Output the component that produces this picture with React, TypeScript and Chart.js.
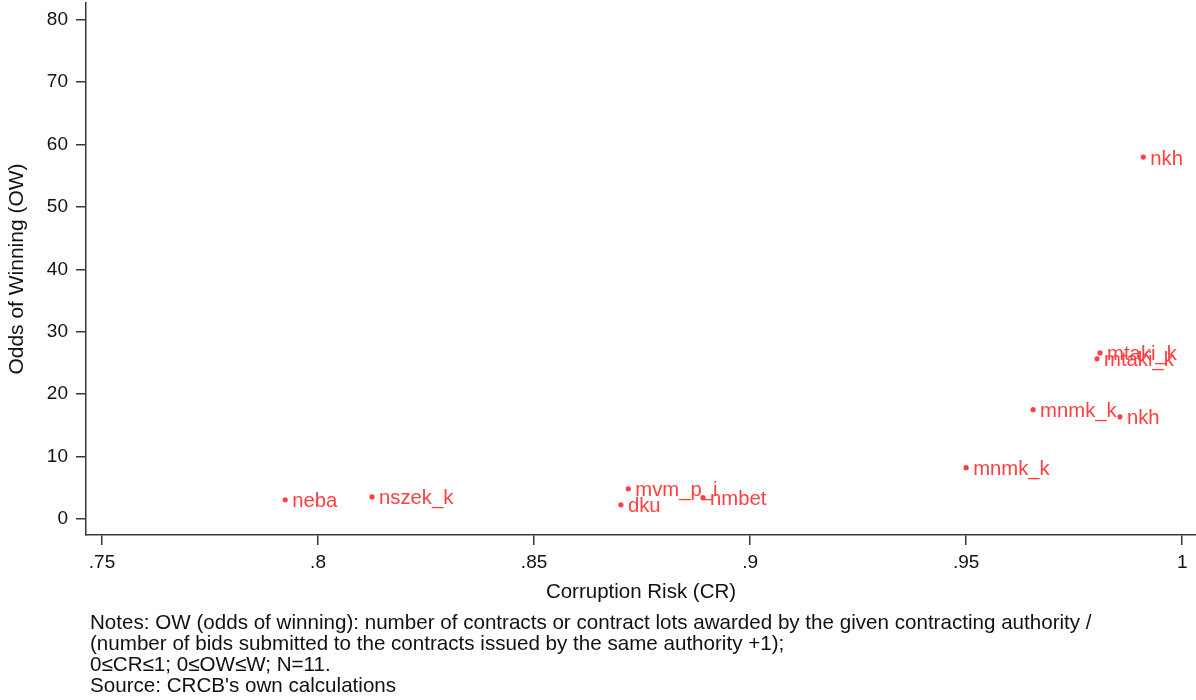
import React, { useEffect, useRef } from "react";
import { Chart, registerables } from "chart.js";

Chart.register(...registerables);

const pointLabels = ["nkh", "mtaki_k", "mtaki_k", "mnmk_k", "nkh", "mnmk_k", "mvm_p_i", "dku", "nmbet", "neba", "nszek_k"];
const crValues = [0.991, 0.981, 0.9803, 0.9655, 0.9856, 0.95, 0.8718, 0.8701, 0.8891, 0.7924, 0.8125];
const owValues = [58.0, 26.6, 25.65, 17.5, 16.35, 8.2, 4.8, 2.24, 3.4, 3.05, 3.5];

const xTicks = [0.75, 0.8, 0.85, 0.9, 0.95, 1];
const xTickLabels = [".75", ".8", ".85", ".9", ".95", "1"];
const yTicks = [0, 10, 20, 30, 40, 50, 60, 70, 80];
const yTickLabels = ["0", "10", "20", "30", "40", "50", "60", "70", "80"];

const xTitle = "Corruption Risk (CR)";
const yTitle = "Odds of Winning (OW)";
const notes = [
  "Notes: OW (odds of winning): number of contracts or contract lots awarded by the given contracting authority /",
  "(number of bids submitted to the contracts issued by the same authority +1);",
  "0\u2264CR\u22641; 0\u2264OW\u2264W; N=11.",
  "Source: CRCB's own calculations",
];

const RED = "rgb(255,64,64)";
const AXIS = "#3a3a3a";
const FONT = "'Liberation Sans', Arial, sans-serif";

const labelPlugin = {
  id: "pointLabels",
  afterDatasetsDraw(chart: any) {
    const ctx = chart.ctx;
    const meta = chart.getDatasetMeta(0);
    ctx.save();
    ctx.fillStyle = RED;
    ctx.font = `20.3px ${FONT}`;
    ctx.textAlign = "left";
    ctx.textBaseline = "alphabetic";
    meta.data.forEach((el: any, i: number) => {
      ctx.fillText(pointLabels[i], el.x + 7, el.y + 7.5);
    });
    ctx.restore();
  },
};

export default function App() {
  const ref = useRef<HTMLCanvasElement | null>(null);

  useEffect(() => {
    document.body.style.margin = "0";
    document.body.style.overflow = "hidden";
    if (!ref.current) return;
    const chart = new Chart(ref.current, {
      type: "scatter",
      data: {
        datasets: [
          {
            data: crValues.map((x, i) => ({ x, y: owValues[i] })),
            pointRadius: 2.6,
            pointBackgroundColor: RED,
            pointBorderWidth: 0,
            borderWidth: 0,
          },
        ],
      },
      options: {
        animation: false,
        responsive: false,
        devicePixelRatio: 1,
        layout: { autoPadding: false, padding: { left: 0, right: 0, top: 3, bottom: 0 } },
        plugins: { legend: { display: false }, tooltip: { enabled: false } },
        scales: {
          x: {
            type: "linear",
            position: "bottom",
            min: 0.7463,
            max: 1.0032,
            afterBuildTicks: (s: any) => {
              s.ticks = xTicks.map((v) => ({ value: v }));
            },
            afterFit: (s: any) => {
              s.height = 77;
              s.paddingLeft = 0;
              s.paddingRight = 0;
            },
            ticks: {
              autoSkip: false,
              maxRotation: 0,
              padding: 6,
              color: "#111",
              font: { family: FONT, size: 19 },
              callback: (_v: any, i: number) => xTickLabels[i],
            },
            grid: { drawOnChartArea: false, drawTicks: true, tickLength: 10, color: AXIS, lineWidth: 1.5 },
            border: { display: true, color: AXIS, width: 1.5 },
            title: {
              display: true,
              text: xTitle,
              color: "#111",
              font: { family: FONT, size: 20.5 },
              padding: { top: 0, bottom: 7 },
            },
          },
          y: {
            type: "linear",
            position: "left",
            min: -2.6,
            max: 82.7,
            afterBuildTicks: (s: any) => {
              s.ticks = yTicks.map((v) => ({ value: v }));
            },
            afterFit: (s: any) => {
              s.width = 86;
              s.paddingTop = 0;
              s.paddingBottom = 0;
            },
            ticks: {
              autoSkip: false,
              padding: 8,
              color: "#111",
              font: { family: FONT, size: 19 },
              callback: (_v: any, i: number) => yTickLabels[i],
            },
            grid: { drawOnChartArea: false, drawTicks: true, tickLength: 10, color: AXIS, lineWidth: 1.5 },
            border: { display: true, color: AXIS, width: 1.5 },
            title: {
              display: true,
              text: yTitle,
              color: "#111",
              font: { family: FONT, size: 21 },
              padding: { top: 5, bottom: 0 },
            },
          },
        },
      },
      plugins: [labelPlugin],
    } as any);
    return () => chart.destroy();
  }, []);

  return (
    <div style={{ position: "relative", width: 1196, height: 700, background: "#fff" }}>
      <canvas ref={ref} width={1196} height={612} style={{ display: "block" }} />
      <div
        style={{
          position: "absolute",
          left: 90,
          top: 611,
          fontFamily: FONT,
          fontSize: 20.6,
          lineHeight: "21px",
          color: "#111",
          whiteSpace: "nowrap",
        }}
      >
        {notes.map((n, i) => (
          <div key={i}>{n}</div>
        ))}
      </div>
    </div>
  );
}
